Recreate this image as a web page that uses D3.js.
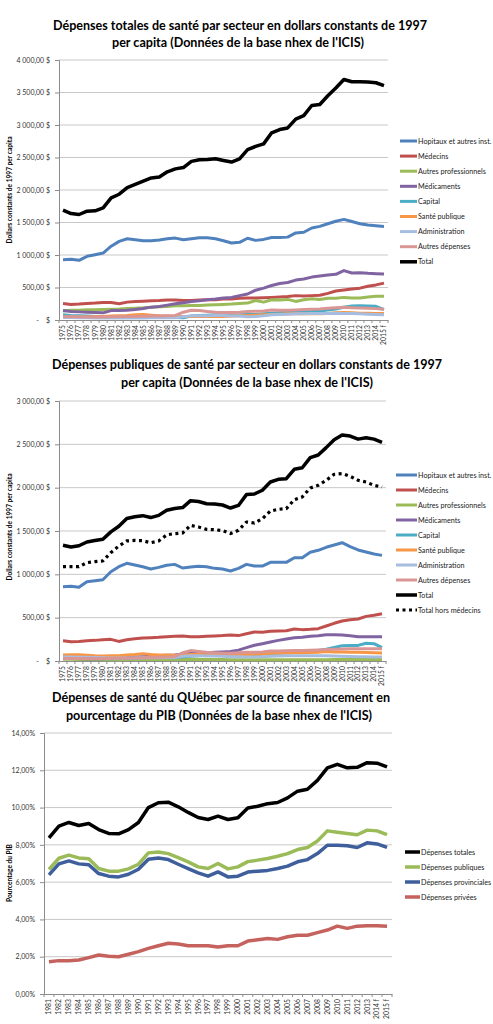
<!DOCTYPE html>
<html>
<head>
<meta charset="utf-8">
<script src="https://cdn.jsdelivr.net/npm/d3@7"></script>
<style>
  body { margin: 0; background: #fff; }
  svg text { font-family: Lato, "DejaVu Sans", sans-serif; fill: #222; }
</style>
</head>
<body>
<div id="chart-area"></div>
<script>

// ---- categories ----
let years75 = ["1975","1976","1977","1978","1979","1980","1981","1982","1983","1984",
  "1985","1986","1987","1988","1989","1990","1991","1992","1993","1994",
  "1995","1996","1997","1998","1999","2000","2001","2002","2003","2004",
  "2005","2006","2007","2008","2009","2010","2011","2012","2013","2014","2015 f"];

let years81 = ["1981","1982","1983","1984","1985","1986","1987","1988","1989","1990",
  "1991","1992","1993","1994","1995","1996","1997","1998","1999","2000",
  "2001","2002","2003","2004","2005","2006","2007","2008","2009","2010",
  "2011","2012","2013","2014 f","2015 f"];

// ---- chart 1 : dépenses totales par secteur ($ 1997 per capita) ----
let totHopitaux = [928,933,918,980,1005,1030,1135,1210,1250,1235,1220,1220,1230,1250,1260,1235,1250,1265,1265,1250,
  1220,1185,1195,1258,1225,1240,1270,1270,1275,1340,1350,1415,1440,1480,1520,1548,1515,1480,1460,1450,1440];
let totMedecins = [255,240,245,255,260,270,270,250,275,285,290,296,300,307,307,300,300,307,312,312,
  322,322,333,338,338,343,348,354,360,375,370,375,380,410,447,463,478,490,520,540,567];
let totAutresPro = [140,150,150,156,156,160,166,170,177,182,187,198,203,208,218,218,224,224,229,234,
  240,245,255,260,300,275,312,307,317,286,312,328,317,333,333,348,338,338,354,364,364];
let totMedicaments = [145,130,125,120,115,110,145,145,150,160,177,198,208,229,250,265,286,296,312,322,
  338,348,375,400,458,490,530,562,577,614,630,660,676,692,702,760,723,728,718,712,708];
let totCapital = [80,70,65,60,55,50,48,45,45,50,55,55,50,45,40,35,60,70,75,80,
  80,75,80,85,85,95,105,110,115,120,125,130,140,155,170,195,215,220,215,210,160];
let totSantePub = [45,45,45,45,50,55,60,65,70,80,85,75,65,60,55,55,55,55,55,55,
  55,60,65,70,75,80,85,90,95,95,95,95,95,100,110,115,110,105,105,100,100];
let totAdmin = [40,38,36,34,32,30,30,30,30,30,32,33,34,35,35,50,65,65,65,70,
  70,60,60,50,55,65,80,85,90,95,95,100,100,100,105,100,100,95,90,85,80];
let totAutresDep = [55,50,50,48,48,48,50,50,52,55,58,60,62,65,70,120,150,145,130,120,
  115,115,120,130,135,140,155,150,150,155,160,165,170,180,190,195,190,185,180,175,165];
let totTotal = [1690,1638,1623,1674,1680,1725,1880,1935,2035,2085,2135,2185,2200,2280,2325,2345,2440,2465,2470,2480,
  2455,2430,2480,2620,2670,2710,2880,2930,2955,3090,3145,3300,3315,3450,3570,3700,3665,3665,3660,3650,3605];

// ---- chart 2 : dépenses publiques par secteur ----
let pubHopitaux = [858,862,850,915,927,938,1030,1088,1127,1108,1088,1062,1080,1104,1115,1073,1085,1092,1088,1069,
  1062,1038,1069,1115,1096,1096,1138,1138,1138,1192,1192,1254,1277,1312,1338,1365,1319,1281,1258,1235,1219];
let pubMedecins = [234,222,226,234,238,246,250,226,246,257,265,269,273,281,285,289,281,281,285,289,
  293,300,293,315,335,331,342,346,350,369,362,365,373,404,435,462,477,485,515,527,546];
let pubAutresPro = [20,20,18,17,16,15,15,15,16,16,17,17,17,18,18,18,18,17,17,16,
  16,15,15,15,15,15,15,15,15,15,15,15,15,15,16,16,16,16,16,16,16];
let pubMedicaments = [35,30,28,27,26,25,35,38,40,45,50,55,60,65,70,80,90,90,95,100,
  105,110,125,154,181,200,220,238,254,269,273,285,292,304,304,300,292,281,281,281,281];
let pubCapital = [50,45,40,38,35,30,25,28,30,35,40,40,40,40,38,50,55,60,65,70,
  65,60,60,65,70,80,85,90,95,100,105,110,120,135,155,175,180,180,205,200,155];
let pubSantePub = [70,72,72,65,60,58,60,62,68,75,85,75,70,68,65,70,75,75,72,70,
  68,70,72,75,78,82,88,90,92,95,95,98,100,110,105,105,100,100,98,95,92];
let pubAdmin = [45,45,44,42,40,38,36,36,36,36,37,38,38,39,40,55,60,60,58,58,
  55,50,50,45,45,48,55,58,60,62,62,62,62,60,58,55,52,50,48,46,45];
let pubAutresDep = [30,28,28,28,28,30,30,32,33,35,38,40,42,45,50,95,120,110,100,95,
  90,90,95,100,100,105,115,115,118,120,122,125,128,132,135,138,140,140,140,140,140];
let pubTotal = [1335,1315,1330,1373,1390,1405,1490,1555,1645,1665,1677,1655,1680,1740,1760,1770,1850,1840,1815,1812,
  1800,1765,1795,1920,1927,1970,2065,2096,2104,2212,2230,2346,2377,2462,2554,2608,2596,2560,2577,2560,2523];
let pubHorsMedecins = [1088,1088,1088,1135,1146,1154,1250,1327,1385,1392,1388,1365,1385,1455,1470,1477,1565,1546,1519,1515,
  1504,1470,1508,1604,1592,1642,1730,1750,1758,1862,1892,1996,2027,2085,2154,2162,2131,2085,2065,2027,2008];

// ---- chart 3 : % du PIB par source de financement ----
let pibTotales = [8.38,9.00,9.20,9.04,9.15,8.82,8.61,8.59,8.82,9.20,10.00,10.26,10.29,10.04,9.74,9.47,9.36,9.54,9.36,9.45,
  9.98,10.07,10.21,10.27,10.52,10.88,10.98,11.46,12.13,12.32,12.13,12.16,12.41,12.38,12.18];
let pibPubliques = [6.68,7.28,7.45,7.30,7.25,6.73,6.59,6.59,6.71,6.96,7.57,7.62,7.53,7.32,7.09,6.82,6.73,7.00,6.71,6.82,
  7.10,7.18,7.27,7.39,7.53,7.75,7.86,8.21,8.75,8.68,8.61,8.54,8.79,8.75,8.55];
let pibProvinciales = [6.39,6.98,7.14,6.98,6.93,6.46,6.32,6.28,6.42,6.69,7.23,7.30,7.21,6.96,6.73,6.50,6.32,6.55,6.28,6.32,
  6.54,6.59,6.63,6.73,6.86,7.09,7.21,7.53,7.98,7.98,7.95,7.86,8.11,8.05,7.86];
let pibPrivees = [1.73,1.79,1.79,1.82,1.95,2.09,2.02,2.00,2.13,2.27,2.45,2.59,2.72,2.68,2.59,2.59,2.59,2.52,2.59,2.59,
  2.84,2.91,2.98,2.93,3.07,3.15,3.15,3.29,3.43,3.64,3.52,3.64,3.66,3.66,3.63];

// tick values
let dollarTicks1 = [0,500,1000,1500,2000,2500,3000,3500,4000];
let dollarTicks2 = [0,500,1000,1500,2000,2500,3000];
let pctTicks = [0,2,4,6,8,10,12,14];

// colours (Excel defaults)
let cBlue = "#4f81bd", cRed = "#c0504d", cGreen = "#9bbb59", cPurple = "#8064a2",
    cAqua = "#4bacc6", cOrange = "#f79646", cLightBlue = "#a7bde0", cPink = "#d99694";

// French number format
let fr = d3.formatLocale({decimal: ",", thousands: "\u00a0", grouping: [3], currency: ["", " $"]});
let fmtDollar = d => d === 0 ? "-\u00a0\u00a0\u00a0\u00a0$" : fr.format(",.2f")(d) + " $";
let fmtPct = d => fr.format(".2f")(d) + "%";

let svg = d3.select("#chart-area").append("svg")
    .attr("width", 493)
    .attr("height", 1024);

function drawPanel(p) {
  let g = svg.append("g");

  // title
  p.title.forEach((t, i) => {
    g.append("text")
      .attr("x", p.titleX[i])
      .attr("y", p.titleY[i])
      .attr("text-anchor", "middle")
      .attr("textLength", p.titleLen[i])
      .attr("lengthAdjust", "spacingAndGlyphs")
      .style("font-size", "12.5px")
      .style("font-weight", "bold")
      .style("fill", "#000")
      .text(t);
  });

  let x = d3.scaleBand().domain(p.cats).range([p.left, p.right]);
  let y = d3.scaleLinear().domain([0, p.yMax]).range([p.bottom, p.top]);
  let bw = x.bandwidth();

  // gridlines
  g.append("g").selectAll("line")
    .data(p.ticks.filter(d => d > 0))
    .join("line")
    .attr("x1", p.left).attr("x2", p.right)
    .attr("y1", d => y(d)).attr("y2", d => y(d))
    .attr("stroke", "#c8c8c8").attr("stroke-width", 1);

  // y axis
  let yAxis = d3.axisLeft(y).tickValues(p.ticks).tickFormat(p.fmt).tickSize(4).tickPadding(5);
  let yg = g.append("g").attr("transform", "translate(" + p.left + ",0)").call(yAxis);
  yg.select(".domain").attr("stroke", "#8c8c8c");
  yg.selectAll(".tick line").attr("stroke", "#8c8c8c");
  yg.selectAll("text").style("font-size", "7px").style("fill", "#333");

  // x axis (labels at band centres, ticks at band edges)
  let xAxis = d3.axisBottom(x).tickSize(0).tickPadding(0);
  let xg = g.append("g").attr("transform", "translate(0," + p.bottom + ")").call(xAxis);
  xg.select(".domain").attr("stroke", "#8c8c8c");
  xg.selectAll("text")
    .attr("transform", "rotate(-90)")
    .attr("x", -5).attr("y", 0).attr("dy", "0.35em")
    .style("text-anchor", "end")
    .style("font-size", "6.8px")
    .style("fill", "#333");
  g.append("g").selectAll("line")
    .data(p.cats.concat([null]))
    .join("line")
    .attr("x1", d => d === null ? p.right : x(d))
    .attr("x2", d => d === null ? p.right : x(d))
    .attr("y1", p.bottom).attr("y2", p.bottom + 3)
    .attr("stroke", "#8c8c8c");

  // y title
  g.append("text")
    .attr("transform", "translate(" + p.yTitleX + "," + p.yTitleY + ") rotate(-90)")
    .attr("text-anchor", "middle")
    .style("font-size", "6.6px")
    .style("font-weight", "bold")
    .style("fill", "#000")
    .text(p.yTitle);

  // lines
  let line = d3.line()
    .x((d, i) => x(p.cats[i]) + bw / 2)
    .y(d => y(d));

  p.series.forEach(s => {
    g.append("path")
      .datum(s.values)
      .attr("d", line)
      .attr("fill", "none")
      .attr("stroke", s.color)
      .attr("stroke-width", s.width)
      .attr("stroke-linejoin", "round")
      .attr("stroke-dasharray", s.dash || null);
  });

  // legend
  let lg = g.append("g").selectAll("g")
    .data(p.series)
    .join("g")
    .attr("transform", (d, i) => "translate(" + p.legX + "," + (p.legY + i * p.legDy) + ")");
  lg.append("line")
    .attr("x1", 0).attr("x2", p.legW)
    .attr("stroke", d => d.color)
    .attr("stroke-width", d => d.width)
    .attr("stroke-dasharray", d => d.dash || null);
  lg.append("text")
    .attr("x", p.legW + 1)
    .attr("dy", "0.35em")
    .style("font-size", "7.2px")
    .style("fill", "#222")
    .text(d => d.name);
}

drawPanel({
  title: ["Dépenses totales de santé par secteur en dollars constants de 1997",
          "per capita (Données de la base nhex de l'ICIS)"],
  titleX: [240, 238], titleY: [30, 47], titleLen: [374, 252],
  cats: years75, left: 59, right: 388, top: 60, bottom: 320,
  yMax: 4000, ticks: dollarTicks1, fmt: fmtDollar,
  yTitle: "Dollars constants de 1997 per capita", yTitleX: 12, yTitleY: 190,
  legX: 400, legY: 141, legDy: 15.1, legW: 17,
  series: [
    {name: "Hopitaux et autres inst.", values: totHopitaux, color: cBlue, width: 3},
    {name: "Médecins", values: totMedecins, color: cRed, width: 3},
    {name: "Autres professionnels", values: totAutresPro, color: cGreen, width: 3},
    {name: "Médicaments", values: totMedicaments, color: cPurple, width: 3},
    {name: "Capital", values: totCapital, color: cAqua, width: 3},
    {name: "Santé publique", values: totSantePub, color: cOrange, width: 3},
    {name: "Administration", values: totAdmin, color: cLightBlue, width: 3},
    {name: "Autres dépenses", values: totAutresDep, color: cPink, width: 3},
    {name: "Total", values: totTotal, color: "#000", width: 3.5}
  ]
});

drawPanel({
  title: ["Dépenses publiques de santé par secteur en dollars constants de 1997",
          "per capita (Données de la base nhex de l'ICIS)"],
  titleX: [247, 247], titleY: [369, 387], titleLen: [390, 252],
  cats: years75, left: 59, right: 386, top: 401, bottom: 661,
  yMax: 3000, ticks: dollarTicks2, fmt: fmtDollar,
  yTitle: "Dollars constants de 1997 per capita", yTitleX: 12, yTitleY: 527,
  legX: 396, legY: 475, legDy: 15, legW: 21,
  series: [
    {name: "Hopitaux et autres inst.", values: pubHopitaux, color: cBlue, width: 3},
    {name: "Médecins", values: pubMedecins, color: cRed, width: 3},
    {name: "Autres professionnels", values: pubAutresPro, color: cGreen, width: 3},
    {name: "Médicaments", values: pubMedicaments, color: cPurple, width: 3},
    {name: "Capital", values: pubCapital, color: cAqua, width: 3},
    {name: "Santé publique", values: pubSantePub, color: cOrange, width: 3},
    {name: "Administration", values: pubAdmin, color: cLightBlue, width: 3},
    {name: "Autres dépenses", values: pubAutresDep, color: cPink, width: 3},
    {name: "Total", values: pubTotal, color: "#000", width: 3.5},
    {name: "Total  hors  médecins", values: pubHorsMedecins, color: "#000", width: 3.2, dash: "3,3.5"}
  ]
});

drawPanel({
  title: ["Dépenses de santé du QUébec par source de financement en",
          "pourcentage du PIB (Données de la base nhex de l'ICIS)"],
  titleX: [221, 219], titleY: [702, 720], titleLen: [338, 306],
  cats: years81, left: 44, right: 392, top: 733, bottom: 994,
  yMax: 14, ticks: pctTicks, fmt: fmtPct,
  yTitle: "Pourcentage du PIB", yTitleX: 12, yTitleY: 873,
  legX: 405, legY: 852, legDy: 15, legW: 15,
  series: [
    {name: "Dépenses totales", values: pibTotales, color: "#000", width: 3.5},
    {name: "Dépenses publiques", values: pibPubliques, color: cGreen, width: 3.5},
    {name: "Dépenses provinciales", values: pibProvinciales, color: "#3e5f9c", width: 3.5},
    {name: "Dépenses privées", values: pibPrivees, color: "#c5625d", width: 3.5}
  ]
});

</script>
</body>
</html>
